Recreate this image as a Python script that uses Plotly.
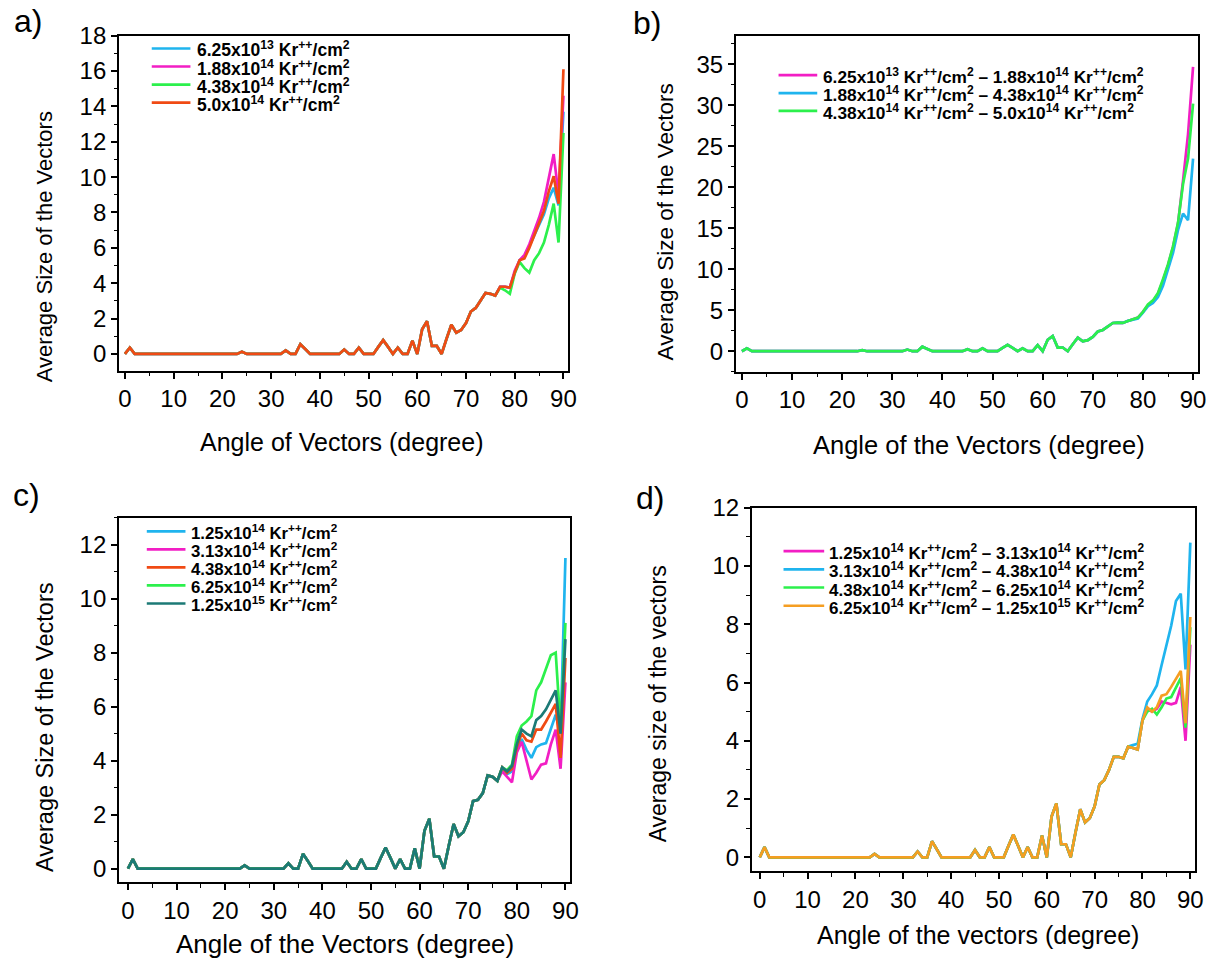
import plotly.graph_objects as go

# ---------------- data ----------------
angles = list(range(0, 91))

# common low-angle part (0..70 degrees)
low_part = [0, 0.35, 0] + [0] * 21 + [0.12] + [0] * 8 + [0.2, 0, 0, 0.55, 0.28] + [0] * 7 + \
    [0.25, 0, 0, 0.35, 0, 0, 0, 0.4, 0.78, 0.4, 0, 0.35, 0, 0, 0.75, 0, 1.4, 1.85, 0.45, 0.45, 0, 0.85, 1.65, 1.2, 1.35, 1.75]

# tails 71..90 degrees
# panel a
a_625e13 = [2.4, 2.6, 3.0, 3.45, 3.4, 3.3, 3.8, 3.8, 3.75, 4.6, 5.3, 5.5, 6.1, 6.7, 7.2, 7.9, 8.8, 9.4, 8.4, 13.7]
a_188e14 = [2.4, 2.6, 3.0, 3.45, 3.4, 3.3, 3.8, 3.8, 3.75, 4.7, 5.3, 5.6, 6.2, 6.9, 7.7, 8.6, 9.9, 11.3, 9.0, 14.6]
a_438e14 = [2.4, 2.6, 3.0, 3.45, 3.4, 3.3, 3.75, 3.6, 3.4, 4.55, 5.2, 4.85, 4.6, 5.3, 5.7, 6.3, 7.3, 8.5, 6.3, 12.5]
a_50e14 = [2.4, 2.6, 3.0, 3.45, 3.4, 3.3, 3.8, 3.8, 3.75, 4.6, 5.3, 5.4, 6.0, 6.7, 7.3, 8.1, 9.2, 10.05, 8.5, 16.1]

# panel b
b_d1 = [2.4, 2.6, 3.0, 3.45, 3.5, 3.45, 3.7, 3.9, 4.1, 4.8, 5.6, 6.1, 7.0, 8.6, 10.5, 12.7, 15.6, 20.8, 26.5, 34.7]
b_d2 = [2.4, 2.6, 3.0, 3.45, 3.5, 3.45, 3.7, 3.85, 4.0, 4.7, 5.5, 5.9, 6.6, 8.0, 9.9, 12.0, 14.8, 16.8, 16.0, 23.5]
b_d3 = [2.4, 2.6, 3.0, 3.45, 3.5, 3.45, 3.7, 3.9, 4.1, 4.8, 5.7, 6.2, 7.1, 8.8, 10.6, 12.8, 15.7, 20.4, 23.5, 30.2]

# panel c
c_125e14 = [2.5, 2.55, 2.8, 3.45, 3.4, 3.25, 3.7, 3.5, 3.6, 4.4, 4.8, 4.4, 4.1, 4.5, 4.6, 4.65, 5.2, 5.7, 5.0, 11.5]
c_313e14 = [2.5, 2.55, 2.8, 3.45, 3.4, 3.25, 3.6, 3.4, 3.2, 4.3, 4.7, 4.0, 3.3, 3.55, 3.85, 3.9, 4.6, 5.15, 3.7, 6.9]
c_438e14 = [2.5, 2.55, 2.8, 3.45, 3.4, 3.25, 3.75, 3.55, 3.7, 4.5, 5.0, 4.75, 4.7, 5.15, 5.15, 5.45, 5.8, 6.1, 4.1, 7.8]
c_625e14 = [2.5, 2.55, 2.8, 3.45, 3.4, 3.25, 3.75, 3.65, 3.85, 4.9, 5.3, 5.45, 5.65, 6.6, 6.9, 7.4, 7.9, 8.0, 5.2, 9.1]
c_125e15 = [2.5, 2.55, 2.8, 3.45, 3.4, 3.25, 3.75, 3.6, 3.8, 4.6, 5.15, 5.0, 4.9, 5.5, 5.65, 5.9, 6.25, 6.6, 5.0, 8.5]

# panel d
d_d1 = [2.5, 2.65, 3.0, 3.45, 3.45, 3.4, 3.8, 3.75, 3.7, 4.7, 5.1, 5.0, 5.1, 5.35, 5.3, 5.25, 5.3, 5.85, 4.0, 7.3]
d_d2 = [2.5, 2.65, 3.0, 3.45, 3.45, 3.4, 3.8, 3.85, 3.9, 4.75, 5.35, 5.6, 5.9, 6.6, 7.3, 7.95, 8.8, 9.05, 6.45, 10.8]
d_d3 = [2.5, 2.65, 3.0, 3.45, 3.45, 3.4, 3.8, 3.75, 3.7, 4.7, 5.0, 5.1, 4.9, 5.15, 5.45, 5.5, 5.8, 6.15, 4.45, 7.9]
d_d4 = [2.5, 2.65, 3.0, 3.45, 3.45, 3.4, 3.8, 3.75, 3.7, 4.7, 5.15, 5.0, 5.15, 5.55, 5.6, 5.85, 6.15, 6.4, 4.6, 8.25]


def dose(m, e):
    return f"{m}x10<sup>{e}</sup> Kr<sup>++</sup>/cm<sup>2</sup>"


names_a = [dose("6.25", 13), dose("1.88", 14), dose("4.38", 14), dose("5.0", 14)]
names_b = [dose("6.25", 13) + " – " + dose("1.88", 14),
           dose("1.88", 14) + " – " + dose("4.38", 14),
           dose("4.38", 14) + " – " + dose("5.0", 14)]
names_c = [dose("1.25", 14), dose("3.13", 14), dose("4.38", 14), dose("6.25", 14), dose("1.25", 15)]
names_d = [dose("1.25", 14) + " – " + dose("3.13", 14),
           dose("3.13", 14) + " – " + dose("4.38", 14),
           dose("4.38", 14) + " – " + dose("6.25", 14),
           dose("6.25", 14) + " – " + dose("1.25", 15)]

BLUE = "#1fb4ee"
MAGENTA = "#f21ec4"
GREEN = "#2cf04c"
RED = "#f04a14"
TEAL = "#1c7a76"
ORANGE = "#f59e22"

W, H = 1217, 961
FONT = "Liberation Sans"

fig = go.Figure()

panels = [
    ("a", [a_625e13, a_188e14, a_438e14, a_50e14], names_a, [BLUE, MAGENTA, GREEN, RED]),
    ("b", [b_d1, b_d2, b_d3], names_b, [MAGENTA, BLUE, GREEN]),
    ("c", [c_125e14, c_313e14, c_438e14, c_625e14, c_125e15], names_c, [BLUE, MAGENTA, RED, GREEN, TEAL]),
    ("d", [d_d1, d_d2, d_d3, d_d4], names_d, [MAGENTA, BLUE, GREEN, ORANGE]),
]
axis_ids = {"a": ("x", "y"), "b": ("x2", "y2"), "c": ("x3", "y3"), "d": ("x4", "y4")}

for key, series, names, colors in panels:
    xa, ya = axis_ids[key]
    for tail, nm, col in zip(series, names, colors):
        fig.add_trace(go.Scatter(
            x=angles, y=low_part + tail, mode="lines", name=nm, showlegend=False,
            line=dict(color=col, width=2.7), xaxis=xa, yaxis=ya))

# pixel boxes of the plot areas: (left, right, top, bottom)
boxes = {
    "a": (119, 572, 22, 362),
    "b": (741, 1207, 22, 363),
    "c": (119, 574, 511, 881),
    "d": (757, 1204, 501, 870),
}
xranges = {"a": [-1.22, 91.0], "b": [-1.19, 91.0], "c": [-1.84, 91.0], "d": [-1.66, 91.0]}
yranges = {"a": [-0.95, 18], "b": [-2.5, 38.5], "c": [-0.5, 13.0], "d": [-0.48, 12]}
ydticks = {"a": 2, "b": 5, "c": 2, "d": 2}

tickfont = dict(family=FONT, size=24, color="black")
layout_axes = {}
for key, (l, r, t, b) in boxes.items():
    xa, ya = axis_ids[key]
    xname = "xaxis" if xa == "x" else "xaxis" + xa[1:]
    yname = "yaxis" if ya == "y" else "yaxis" + ya[1:]
    layout_axes[xname] = dict(
        domain=[l / W, r / W], range=xranges[key], anchor=ya,
        showline=True, linecolor="black", linewidth=1.8, mirror=True,
        ticks="outside", ticklen=6, tickwidth=1.5, tickcolor="black",
        dtick=10, tick0=0, showgrid=False, zeroline=False, tickfont=tickfont,
        minor=dict(ticks="outside", ticklen=3.5, dtick=5, tickcolor="black", tickwidth=1.3),
    )
    layout_axes[yname] = dict(
        domain=[1 - b / H, 1 - t / H], range=yranges[key], anchor=xa,
        showline=True, linecolor="black", linewidth=1.8, mirror=True,
        ticks="outside", ticklen=6, tickwidth=1.5, tickcolor="black",
        dtick=ydticks[key], tick0=0, showgrid=False, zeroline=False, tickfont=tickfont,
        minor=dict(ticks="outside", ticklen=3.5, dtick=ydticks[key] / 2, tickcolor="black", tickwidth=1.3),
    )

annotations = []
shapes = []


def text(x, y, s, size, angle=0, anchor="center", bold=False, yanchor="middle"):
    annotations.append(dict(x=x / W, y=1 - y / H, xref="paper", yref="paper", text=s,
                            showarrow=False, textangle=angle, xanchor=anchor, yanchor=yanchor,
                            borderpad=0,
                            font=dict(family=FONT, size=size, color="black",
                                      weight="bold" if bold else "normal")))


# legends drawn as line samples + real text
legend_pos = {  # sample x0, sample x1, text x, first row y, row step, font size
    "a": (152, 191, 197, 35, 18.3, 17.5),
    "b": (784, 823, 828, 62, 18.2, 17.3),
    "c": (147, 186, 191, 525, 18.3, 16.8),
    "d": (789, 830, 834, 545, 18.5, 17.0),
}
for key, series, names, colors in panels:
    x0, x1, tx, y0, dy, fs = legend_pos[key]
    for i, (nm, col) in enumerate(zip(names, colors)):
        yy = y0 + i * dy
        shapes.append(dict(type="line", xref="paper", yref="paper",
                           x0=x0 / W, x1=x1 / W, y0=1 - yy / H, y1=1 - yy / H,
                           line=dict(color=col, width=2.7)))
        text(tx, yy + 1, nm, fs, anchor="left", bold=True)

# panel labels
text(27, -12, "a)", 32, yanchor="top")
text(651, -10, "b)", 32, yanchor="top")
text(26, 469, "c)", 32, yanchor="top")
text(654, 472, "d)", 32, yanchor="top")
# x titles
text(344, 434, "Angle of Vectors (degree)", 25)
text(986, 437, "Angle of the Vectors (degree)", 25.5)
text(347, 944, "Angle of the Vectors (degree)", 26)
text(985, 935, "Angle of the vectors (degree)", 25)
# y titles
text(44, 236, "Average Size of the Vectors", 22, -90)
text(670, 211, "Average Size of the Vectors", 22.5, -90)
text(45, 724, "Average Size of the Vectors", 23.5, -90)
text(662, 700, "Average size of the vectors", 23, -90)

fig.update_layout(
    width=W, height=H, margin=dict(l=0, r=0, t=0, b=0),
    paper_bgcolor="white", plot_bgcolor="white",
    showlegend=False, annotations=annotations, shapes=shapes, font=dict(family=FONT),
    **layout_axes,
)

fig.write_html("out.html")
